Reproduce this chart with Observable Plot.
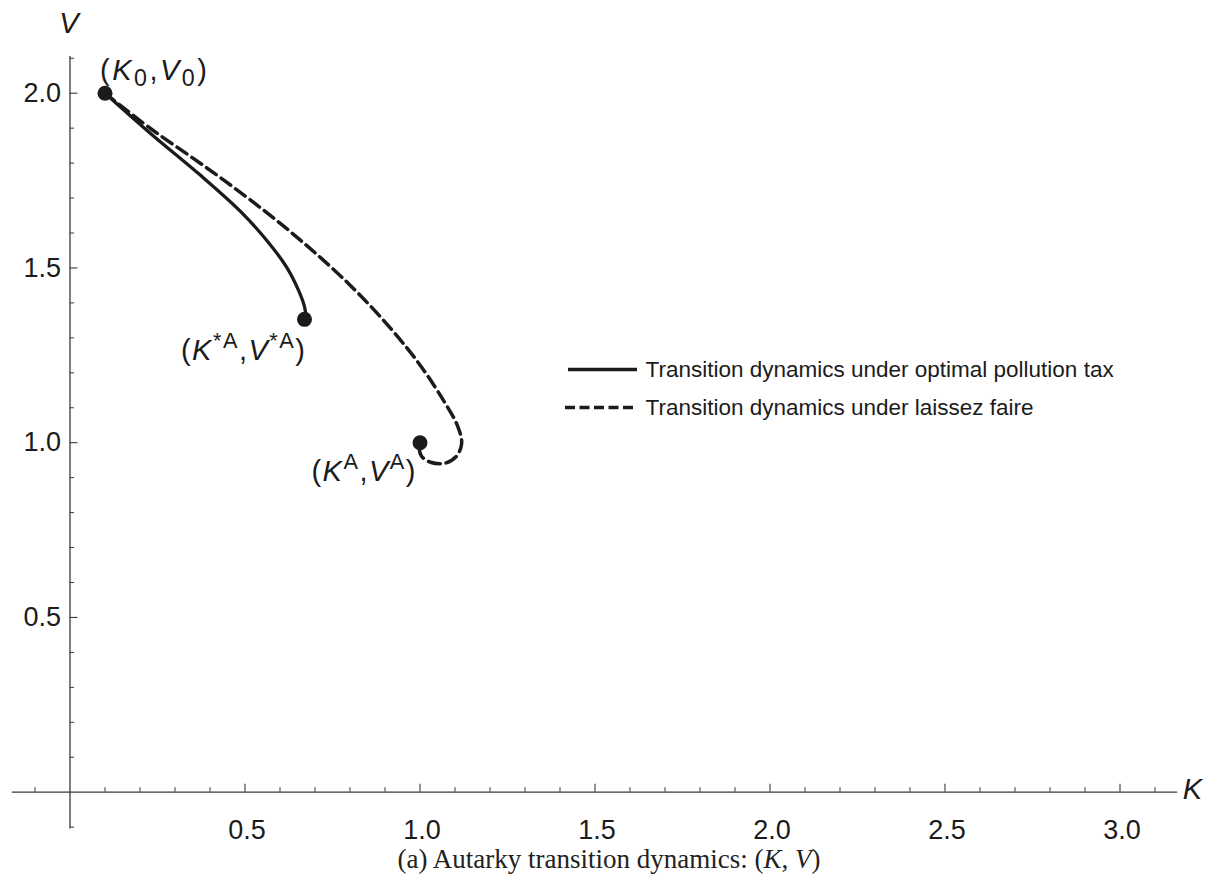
<!DOCTYPE html>
<html>
<head>
<meta charset="utf-8">
<script src="https://cdn.jsdelivr.net/npm/d3@7"></script>
<script src="https://cdn.jsdelivr.net/npm/@observablehq/plot@0.6"></script>
<style>
  html, body { margin: 0; padding: 0; background: #fff; }
  #chart svg { display: block; }
  #caption { width: 1218px; height: 40px; line-height: 47px; text-align: center;
    font-family: "Liberation Serif", "DejaVu Serif", serif; font-size: 27px; color: #222; }
  #caption i { font-style: italic; }
</style>
</head>
<body>
<div id="chart"></div>
<div id="caption">(a) Autarky transition dynamics: (<i>K</i>, <i>V</i>)</div>
<script>
// ---- data ----
const taxK = [0.100, 0.230, 0.373, 0.487, 0.567, 0.621, 0.653, 0.669, 0.673, 0.670];
const taxV = [2.000, 1.885, 1.765, 1.662, 1.573, 1.499, 1.436, 1.393, 1.370, 1.353];

const lfK = [0.100, 0.230, 0.373, 0.516, 0.659, 0.801, 0.916, 1.001, 1.067, 1.107, 1.119, 1.104, 1.070, 1.030, 1.004, 0.998, 1.000];
const lfV = [2.000, 1.899, 1.799, 1.694, 1.579, 1.450, 1.327, 1.221, 1.121, 1.049, 0.998, 0.961, 0.941, 0.944, 0.962, 0.982, 1.000];

const pointK = [0.1, 0.670, 1.0];
const pointV = [2.0, 1.353, 1.0];
const pointLabels = ["(K_0,V_0)", "(K^{*A},V^{*A})", "(K^A,V^A)"];

const xMajorTicks = [0.5, 1.0, 1.5, 2.0, 2.5, 3.0];
const xTickLabels = ["0.5", "1.0", "1.5", "2.0", "2.5", "3.0"];
const yMajorTicks = [0.5, 1.0, 1.5, 2.0];
const yTickLabels = ["0.5", "1.0", "1.5", "2.0"];

const legendLabels = ["Transition dynamics under optimal pollution tax", "Transition dynamics under laissez faire"];
const xAxisLabel = "K";
const yAxisLabel = "V";

// ---- layout ----
const W = 1218, H = 836;
const pxX = 350, pxY = 349.5, x0px = 69.5, y0px = 791.7;
const xDomain = [-x0px / pxX, (W - x0px) / pxX];
const yDomain = [(y0px - H) / pxY, y0px / pxY];
const xAxisExtent = [-0.165, 3.165];
const yAxisExtent = [-0.105, 2.105];
const majorLen = 8, minorLen = 4.5;

const isMajor = v => Math.abs(v * 2 - Math.round(v * 2)) < 1e-9;
const xMinor = d3.range(-1, 32).map(i => i / 10).filter(v => Math.abs(v) > 1e-9 && !isMajor(v));
const yMinor = d3.range(-1, 22).map(i => i / 10).filter(v => Math.abs(v) > 1e-9 && !isMajor(v));

const taxData = taxK.map((k, i) => ({K: k, V: taxV[i]}));
const lfData = lfK.map((k, i) => ({K: k, V: lfV[i]}));
const points = pointK.map((k, i) => ({K: k, V: pointV[i], label: pointLabels[i]}));

// legend placement in pixels -> data
const invX = px => (px - x0px) / pxX;
const invY = py => (y0px - py) / pxY;
const legendRows = legendLabels.map((label, i) => ({
  label, x1: invX(i === 1 ? 565 : 568), x2: invX(637), xt: invX(645), y: invY(i === 0 ? 369 : 407)
}));

const axisColor = "#3a3a3a";
const ink = "#1b1b1b";
const sans = "'Liberation Sans', Arial, sans-serif";
const labelFs = 29;

const chart = Plot.plot({
  width: W, height: H, margin: 0,
  style: {fontFamily: sans, background: "#fff", color: ink, overflow: "visible"},
  x: {domain: xDomain, range: [0, W], axis: null},
  y: {domain: yDomain, range: [H, 0], axis: null},
  marks: [
    // axes lines
    Plot.ruleY([0], {x1: xAxisExtent[0], x2: xAxisExtent[1], stroke: axisColor, strokeWidth: 1.3}),
    Plot.ruleX([0], {y1: yAxisExtent[0], y2: yAxisExtent[1], stroke: axisColor, strokeWidth: 1.3}),
    // x ticks (pointing up)
    Plot.ruleX(xMajorTicks, {x: d => d, y1: 0, y2: majorLen / pxY, stroke: axisColor, strokeWidth: 1.1}),
    Plot.ruleX(xMinor, {x: d => d, y1: 0, y2: minorLen / pxY, stroke: axisColor, strokeWidth: 1}),
    // y ticks (pointing right)
    Plot.ruleY(yMajorTicks, {y: d => d, x1: 0, x2: majorLen / pxX, stroke: axisColor, strokeWidth: 1.1}),
    Plot.ruleY(yMinor, {y: d => d, x1: 0, x2: minorLen / pxX, stroke: axisColor, strokeWidth: 1}),
    // tick labels
    Plot.text(xMajorTicks, {x: d => d, y: 0, text: (d, i) => xTickLabels[i], dx: 2, dy: 38, fontSize: 27, fill: ink}),
    Plot.text(yMajorTicks, {x: 0, y: d => d, text: (d, i) => yTickLabels[i], dx: -9, textAnchor: "end", fontSize: 27, fill: ink}),
    // axis labels
    Plot.text([xAxisLabel], {x: xAxisExtent[1], y: 0, text: d => d, dx: 5, dy: -2, textAnchor: "start", fontSize: 29, fontStyle: "italic", fill: ink}),
    Plot.text([yAxisLabel], {x: 0, y: yAxisExtent[1], text: d => d, dy: -33, dx: -1, fontSize: 29, fontStyle: "italic", fill: ink}),
    // curves
    Plot.line(taxData, {x: "K", y: "V", curve: "catmull-rom", stroke: ink, strokeWidth: 3.3}),
    Plot.line(lfData, {x: "K", y: "V", curve: "catmull-rom", stroke: ink, strokeWidth: 3.5, strokeDasharray: "12,6"}),
    // points
    Plot.dot(points, {x: "K", y: "V", r: 7.5, fill: ink, stroke: "none"}),
    // point labels
    Plot.text(points.slice(0, 1), {x: "K", y: "V", text: "label", dx: -5, dy: -22, textAnchor: "start", fontSize: labelFs, fill: ink}),
    Plot.text(points.slice(1, 2), {x: "K", y: "V", text: "label", dx: 2, dy: 31, textAnchor: "end", fontSize: labelFs, fill: ink}),
    Plot.text(points.slice(2, 3), {x: "K", y: "V", text: "label", dx: -3, dy: 29, textAnchor: "end", fontSize: labelFs, fill: ink}),
    // legend
    Plot.ruleY(legendRows.slice(0, 1), {x1: "x1", x2: "x2", y: "y", stroke: ink, strokeWidth: 3.3}),
    Plot.ruleY(legendRows.slice(1, 2), {x1: "x1", x2: "x2", y: "y", stroke: ink, strokeWidth: 3.5, strokeDasharray: "10,4.5"}),
    Plot.text(legendRows, {x: "xt", y: "y", text: "label", textAnchor: "start", fontSize: 22.5, fill: ink})
  ]
});

document.getElementById("chart").appendChild(chart);
const svg = d3.select(chart);

// Rich formatting for math labels: italic K, V; _x subscript; ^x or ^{xx} superscript
function parseMath(s) {
  const parts = [];
  let i = 0;
  while (i < s.length) {
    const c = s[i];
    if (c === "_" || c === "^") {
      let content;
      if (s[i + 1] === "{") { const j = s.indexOf("}", i); content = s.slice(i + 2, j); i = j + 1; }
      else { content = s[i + 1]; i += 2; }
      parts.push({t: content, pos: c === "_" ? "sub" : "sup"});
    } else {
      parts.push({t: c, pos: "base", italic: /[KV]/.test(c)});
      i++;
    }
  }
  return parts;
}
svg.selectAll("text").each(function() {
  const el = this;
  const s = el.textContent;
  if (!pointLabels.includes(s)) return;
  const fs = labelFs;
  const hasSub = s.includes("_");
  el.textContent = "";
  el.setAttribute("letter-spacing", hasSub ? "2.5" : "1.5");
  let shift = 0;
  for (const p of parseMath(s)) {
    const target = p.pos === "sub" ? 0.2 * fs : p.pos === "sup" ? -0.4 * fs : 0;
    const ts = document.createElementNS("http://www.w3.org/2000/svg", "tspan");
    ts.textContent = p.t;
    if (target !== shift) ts.setAttribute("dy", target - shift);
    shift = target;
    if (p.pos !== "base") ts.setAttribute("font-size", fs * (hasSub ? 0.8 : 0.75));
    if (p.italic) ts.setAttribute("font-style", "italic");
    el.appendChild(ts);
  }
});
</script>
</body>
</html>
